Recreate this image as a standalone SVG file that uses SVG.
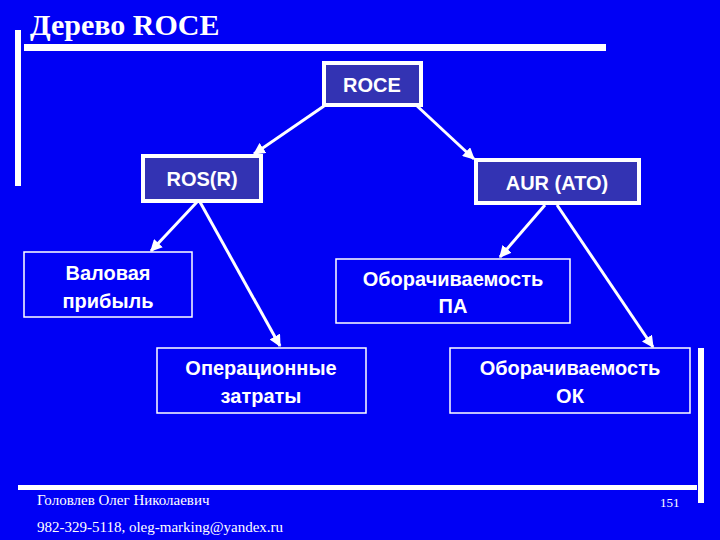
<svg xmlns="http://www.w3.org/2000/svg" width="720" height="540" viewBox="0 0 720 540">
<defs>
<marker id="ah" viewBox="0 0 10 10" refX="9" refY="5" markerWidth="4" markerHeight="4" orient="auto"><path d="M0,0L10,5L0,10z" fill="#fff"/></marker>
<style>
.t{font-family:"Liberation Sans",Arial,sans-serif;font-weight:bold;fill:#fff;text-anchor:middle;font-size:20px}
.hb{fill:#3333b3;stroke:#fff;stroke-width:4}
.nb{fill:none;stroke:#fff;stroke-width:1.5}
.s{font-family:"Liberation Serif","Times New Roman",serif;fill:#fff}
.c{stroke:#fff;stroke-width:3;fill:none;marker-end:url(#ah)}
</style>
</defs>
<rect width="720" height="540" fill="#0000f5"/>
<text class="s" x="30" y="35" font-size="30" font-weight="bold">Дерево ROCE</text>
<rect x="15" y="30" width="6" height="156" fill="#fff"/>
<rect x="24" y="44" width="582" height="7" fill="#fff"/>
<rect x="18" y="485" width="679" height="5" fill="#fff"/>
<rect x="698" y="348" width="6" height="155" fill="#fff"/>
<text class="s" x="37" y="505" font-size="15">Головлев Олег Николаевич</text>
<text class="s" x="37" y="532" font-size="15">982-329-5118,  oleg-marking@yandex.ru</text>
<text class="s" x="660" y="507" font-size="13">151</text>
<g id="connectors">
<line class="c" x1="324" y1="106" x2="254" y2="154"/>
<line class="c" x1="416" y1="105" x2="474" y2="159"/>
<line class="c" x1="197" y1="202" x2="151" y2="251"/>
<line class="c" x1="200" y1="202" x2="280" y2="346"/>
<line class="c" x1="545" y1="205" x2="500" y2="257"/>
<line class="c" x1="557" y1="205" x2="653" y2="347"/>
</g>
<g id="roce"><rect class="hb" x="324" y="63" width="97" height="42"/><text class="t" x="372" y="92" font-size="22">ROCE</text></g>
<g id="ros"><rect class="hb" x="143" y="156" width="118" height="45"/><text class="t" x="202" y="186">ROS(R)</text></g>
<g id="aur"><rect class="hb" x="476" y="160" width="163" height="43"/><text class="t" x="557" y="190">AUR (ATO)</text></g>
<g id="gross"><rect class="nb" x="24" y="252" width="168" height="65"/><text class="t" x="108" y="280">Валовая</text><text class="t" x="108" y="308">прибыль</text></g>
<g id="pa"><rect class="nb" x="336" y="259" width="234" height="64"/><text class="t" x="453" y="286">Оборачиваемость</text><text class="t" x="453" y="313">ПА</text></g>
<g id="opex"><rect class="nb" x="157" y="348" width="209" height="65"/><text class="t" x="261" y="375">Операционные</text><text class="t" x="261" y="403">затраты</text></g>
<g id="ok"><rect class="nb" x="450" y="348" width="240" height="65"/><text class="t" x="570" y="375">Оборачиваемость</text><text class="t" x="570" y="403">ОК</text></g>
</svg>
